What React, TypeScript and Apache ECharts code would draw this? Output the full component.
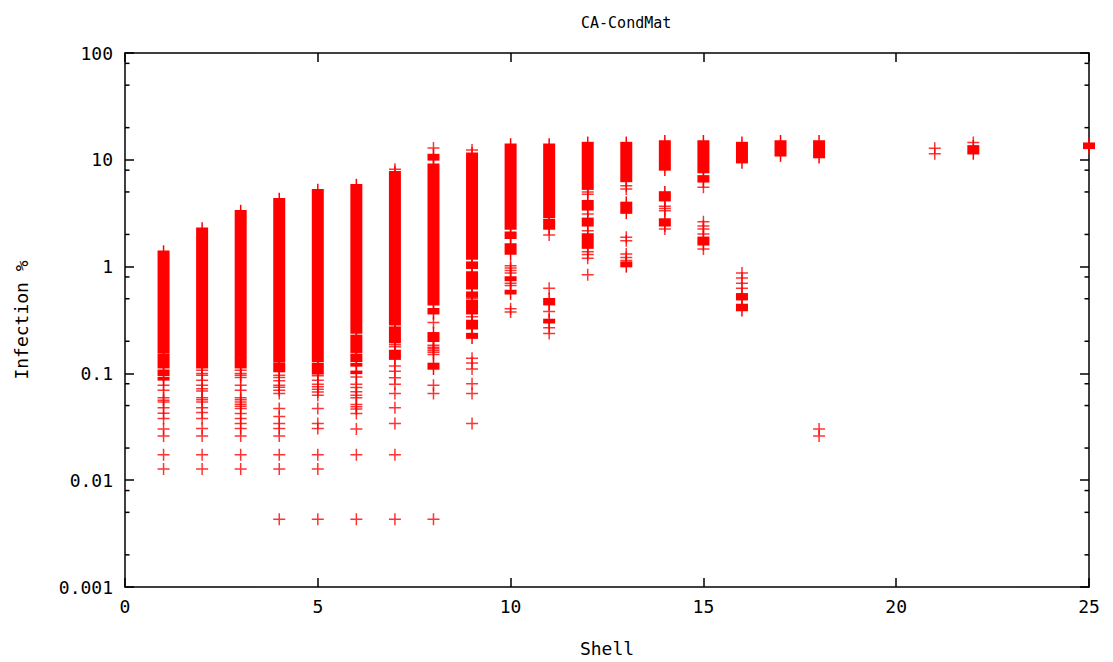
import React, { useEffect, useRef } from 'react';
import * as echarts from 'echarts';

// x-axis tick labels (shell numbers)
const shellTicks = [0, 5, 10, 15, 20, 25];
// y-axis decades (log) and gnuplot-style minor tick values
const yDecades = [0.001, 0.01, 0.1, 1, 10, 100];
const minorTickValues = [0.002, 0.005, 0.008, 0.02, 0.05, 0.08, 0.2, 0.5, 0.8, 2, 5, 8, 20, 50, 80];

// dense runs of "+" points: [shell, lowest %, highest %]
const denseRanges: [number, number, number][] = [
  [1, 0.156, 1.39], [1, 0.113, 0.151], [1, 0.096, 0.107], [1, 0.087, 0.0914],
  [2, 0.113, 2.28],
  [3, 0.143, 3.33], [3, 0.113, 0.14],
  [4, 0.13, 4.31], [4, 0.104, 0.125],
  [5, 0.13, 5.24], [5, 0.099, 0.124],
  [6, 0.239, 5.83], [6, 0.158, 0.227], [6, 0.13, 0.151], [6, 0.1175, 0.1235], [6, 0.1, 0.1046],
  [7, 0.285, 7.71], [7, 0.194, 0.271], [7, 0.136, 0.164],
  [8, 9.98, 11.2], [8, 0.439, 9.1], [8, 0.362, 0.403], [8, 0.2, 0.24], [8, 0.11, 0.124],
  [9, 1.18, 11.5], [9, 0.966, 1.1], [9, 0.62, 0.89], [9, 0.518, 0.576], [9, 0.362, 0.48], [9, 0.262, 0.313], [9, 0.214, 0.236],
  [10, 2.25, 14.0], [10, 1.84, 2.1], [10, 1.31, 1.63], [10, 0.74, 0.8], [10, 0.556, 0.597],
  [11, 2.89, 14.0], [11, 2.25, 2.75], [11, 0.44, 0.5], [11, 0.298, 0.32],
  [12, 5.31, 14.5], [12, 3.4, 4.14], [12, 2.41, 2.83], [12, 1.49, 2.02],
  [13, 6.27, 14.5], [13, 3.17, 3.99], [13, 1.0, 1.1],
  [14, 8.04, 15.0], [14, 4.14, 5.0], [14, 2.41, 2.79],
  [15, 7.6, 15.0], [15, 6.22, 7.07], [15, 1.6, 1.88],
  [16, 9.4, 14.5], [16, 0.49, 0.556], [16, 0.388, 0.442],
  [17, 10.9, 15.0],
  [18, 10.5, 15.0],
  [22, 11.4, 13.5],
  [25, 12.8, 14.3],
];

// isolated "+" points: [shell, values %]
const isolatedPoints: [number, number[]][] = [
  [1, [0.0774, 0.0695, 0.059, 0.0562, 0.054, 0.0476, 0.0424, 0.0378, 0.0301, 0.0259, 0.0173, 0.0127]],
  [2, [0.107, 0.1, 0.096, 0.0865, 0.0774, 0.072, 0.0685, 0.059, 0.0566, 0.054, 0.0476, 0.043, 0.0378, 0.0305, 0.026, 0.0173, 0.0127]],
  [3, [0.107, 0.1, 0.096, 0.0914, 0.0774, 0.0695, 0.059, 0.0566, 0.054, 0.0514, 0.0493, 0.0469, 0.0421, 0.0378, 0.034, 0.0305, 0.026, 0.0173, 0.0127]],
  [4, [0.096, 0.0914, 0.0855, 0.0774, 0.074, 0.0695, 0.0647, 0.047, 0.0394, 0.034, 0.0305, 0.026, 0.0173, 0.0127, 0.00432]],
  [5, [0.095, 0.0865, 0.079, 0.075, 0.071, 0.067, 0.0625, 0.047, 0.034, 0.0305, 0.0173, 0.0127, 0.00432]],
  [6, [0.0927, 0.079, 0.0737, 0.0672, 0.0625, 0.059, 0.0511, 0.0487, 0.0463, 0.0421, 0.0301, 0.0173, 0.00432]],
  [7, [8.17, 0.185, 0.178, 0.1175, 0.1046, 0.0909, 0.079, 0.0647, 0.0476, 0.034, 0.0173, 0.00432]],
  [8, [12.9, 0.3, 0.183, 0.176, 0.17, 0.164, 0.158, 0.15, 0.0774, 0.0647, 0.00432]],
  [9, [12.35, 0.5, 0.34, 0.139, 0.125, 0.11, 0.0802, 0.0647, 0.034]],
  [10, [1.02, 0.97, 0.92, 0.87, 0.7, 0.665, 0.403, 0.375]],
  [11, [1.98, 0.628, 0.38, 0.268, 0.236]],
  [12, [5.0, 4.77, 3.1, 2.17, 1.38, 1.3, 1.2, 0.84]],
  [13, [5.7, 5.32, 1.88, 1.75, 1.31, 1.22, 1.14]],
  [14, [3.67, 3.5, 3.33, 2.25]],
  [15, [5.52, 2.63, 2.4, 2.25, 2.02, 1.46]],
  [16, [0.873, 0.78, 0.7, 0.628]],
  [18, [0.0301, 0.026]],
  [21, [12.8, 11.4]],
  [22, [14.5]],
];

const RED = '#ff0000';
const FONT = 'DejaVu Sans Mono';

export default function App() {
  const ref = useRef<HTMLDivElement>(null);

  useEffect(() => {
    if (!ref.current) return;
    const chart = echarts.init(ref.current, null, { renderer: 'svg' });
    const crossData = isolatedPoints.flatMap(([s, vals]) => vals.map((v) => [s, v]));
    const xMin = shellTicks[0];
    const xMax = shellTicks[shellTicks.length - 1];
    const yMin = yDecades[0];
    const yMax = yDecades[yDecades.length - 1];

    const axisLine = { show: true, onZero: false, lineStyle: { color: '#000', width: 1.5 } };
    const majorTick = { show: true, inside: true, length: 9, lineStyle: { color: '#000', width: 1.5 } };
    const fmtY = (v: number) => String(Number(Number(v).toPrecision(3)));

    const plusPath = 'path://M5.25,0H6.75V5.25H12V6.75H6.75V12H5.25V6.75H0V5.25H5.25Z';

    chart.setOption({
      animation: false,
      backgroundColor: '#fff',
      title: {
        text: 'CA-CondMat',
        left: 576,
        top: 10,
        textStyle: { fontFamily: FONT, fontSize: 15, fontWeight: 'normal', color: '#000' },
      },
      grid: { left: 125, right: 24, top: 53, bottom: 73, containLabel: false },
      xAxis: [
        {
          type: 'value', min: xMin, max: xMax, interval: 5, position: 'bottom',
          name: 'Shell', nameLocation: 'middle', nameGap: 52,
          nameTextStyle: { fontFamily: FONT, fontSize: 18, color: '#000' },
          axisLine, axisTick: majorTick, splitLine: { show: false },
          axisLabel: { margin: 10, fontFamily: FONT, fontSize: 18, color: '#000' },
        },
        {
          type: 'value', min: xMin, max: xMax, interval: 5, position: 'top',
          axisLine, axisTick: majorTick, splitLine: { show: false }, axisLabel: { show: false },
        },
      ],
      yAxis: [
        {
          type: 'log', logBase: 10, min: yMin, max: yMax, position: 'left',
          name: 'Infection %', nameLocation: 'middle', nameGap: 95, nameRotate: 90,
          nameTextStyle: { fontFamily: FONT, fontSize: 18, color: '#000' },
          axisLine, axisTick: majorTick, splitLine: { show: false },
          axisLabel: { margin: 12, fontFamily: FONT, fontSize: 18, color: '#000', formatter: fmtY },
        },
        {
          type: 'log', logBase: 10, min: yMin, max: yMax, position: 'right',
          axisLine, axisTick: majorTick, splitLine: { show: false }, axisLabel: { show: false },
        },
      ],
      series: [
        {
          type: 'custom',
          name: 'minor ticks',
          silent: true,
          clip: false,
          data: minorTickValues.map((v) => [xMin, v]),
          encode: { x: 0, y: 1 },
          renderItem: (_p: any, api: any) => {
            const v = api.value(1);
            const l = api.coord([xMin, v]);
            const r = api.coord([xMax, v]);
            const st = { stroke: '#000', lineWidth: 1.5 };
            return {
              type: 'group',
              children: [
                { type: 'line', shape: { x1: l[0], y1: l[1], x2: l[0] + 4.5, y2: l[1] }, style: st },
                { type: 'line', shape: { x1: r[0] - 4.5, y1: r[1], x2: r[0], y2: r[1] }, style: st },
              ],
            };
          },
        },
        {
          type: 'custom',
          name: 'dense',
          clip: false,
          data: denseRanges,
          encode: { x: 0, y: [1, 2] },
          renderItem: (_p: any, api: any) => {
            const s = api.value(0);
            const pLo = api.coord([s, api.value(1)]);
            const pHi = api.coord([s, api.value(2)]);
            const h = pLo[1] - pHi[1];
            return {
              type: 'group',
              children: [
                { type: 'rect', shape: { x: pHi[0] - 6, y: pHi[1] - 0.75, width: 12, height: h + 1.5 }, style: { fill: RED } },
                { type: 'rect', shape: { x: pHi[0] - 0.75, y: pHi[1] - 6, width: 1.5, height: h + 12 }, style: { fill: RED } },
              ],
            };
          },
        },
        {
          type: 'scatter',
          name: 'points',
          clip: false,
          symbol: plusPath,
          symbolSize: 12,
          itemStyle: { color: RED },
          data: crossData,
        },
      ],
    });
    return () => chart.dispose();
  }, []);

  return (
    <div
      ref={ref}
      style={{ position: 'absolute', left: 0, top: 0, width: 1113, height: 662 }}
    />
  );
}
